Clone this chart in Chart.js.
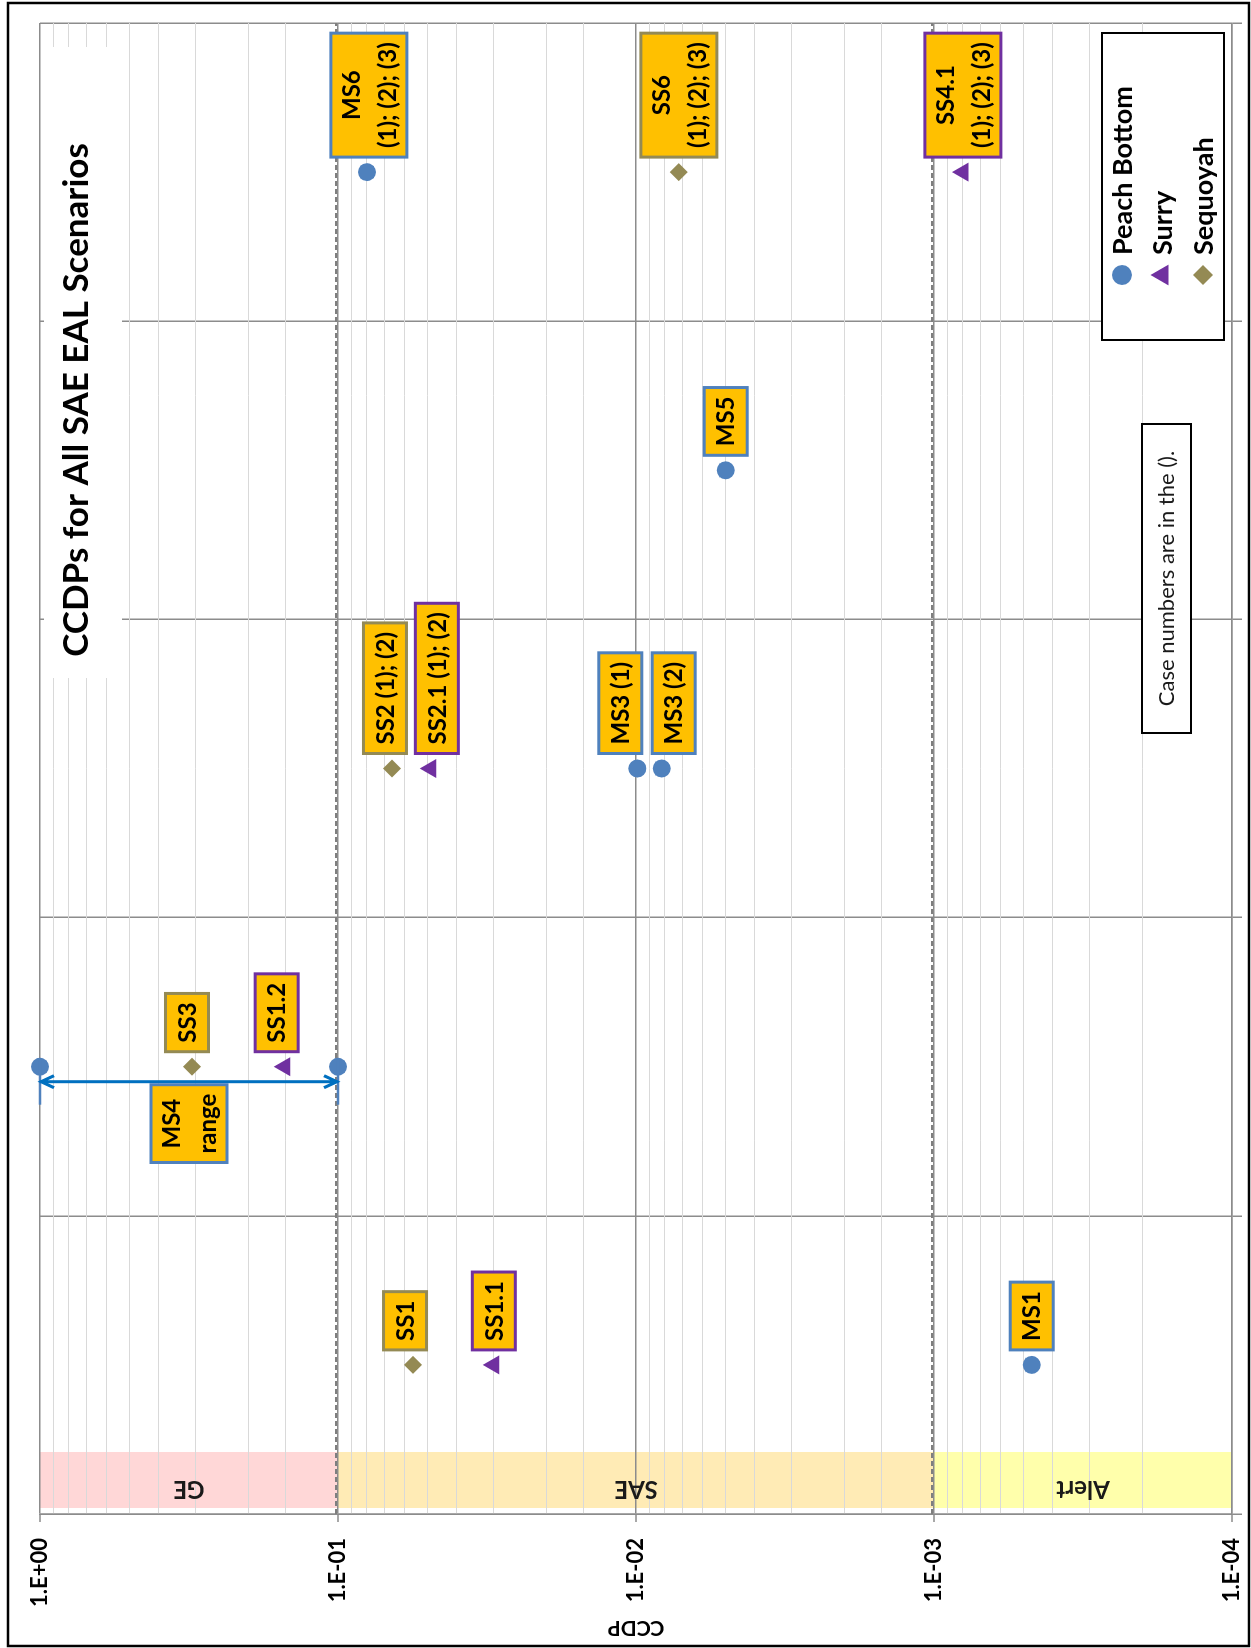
<!DOCTYPE html>
<html>
<head>
<meta charset="utf-8">
<title>CCDPs for All SAE EAL Scenarios</title>
<script src="https://cdn.jsdelivr.net/npm/chart.js@4.4.1/dist/chart.umd.min.js"></script>
<style>
  html, body { margin: 0; padding: 0; background: #fff; overflow: hidden; }
  /* the chart is drawn landscape and turned a quarter turn, like the source figure */
  #wrap {
    position: absolute; left: 0; top: 0;
    width: 1648px; height: 1251px;
    transform-origin: 0 0;
    transform: translateY(1648px) rotate(-90deg);
  }
</style>
</head>
<body>
<div id="wrap"><canvas id="ccdpChart" width="1648" height="1251"></canvas></div>
<script>
// Scenario groups along the category axis (not labelled on the figure)
const categories = ["G1", "G2", "G3", "G4", "G5"];

// CCDP axis ticks
const tickValues = [1, 0.1, 0.01, 0.001, 0.0001];
const tickLabels = ["1.E+00", "1.E-01", "1.E-02", "1.E-03", "1.E-04"];

// Peach Bottom
const peachGroups = ["G1", "G3", "G3", "G4", "G5"];
const peachValues = [4.7e-4, 0.0099, 0.0082, 0.005, 0.08];
const peachLabels = ["MS1", "MS3 (1)", "MS3 (2)", "MS5", "MS6\n(1); (2); (3)"];

// Surry
const surryGroups = ["G1", "G2", "G3", "G5"];
const surryValues = [0.03, 0.151, 0.0488, 0.0008];
const surryLabels = ["SS1.1", "SS1.2", "SS2.1 (1); (2)", "SS4.1\n(1); (2); (3)"];

// Sequoyah
const sequoyahGroups = ["G1", "G2", "G3", "G5"];
const sequoyahValues = [0.056, 0.309, 0.0659, 0.00718];
const sequoyahLabels = ["SS1", "SS3", "SS2 (1); (2)", "SS6\n(1); (2); (3)"];

// MS4 range (Peach Bottom)
const ms4Group = "G2";
const ms4Range = [1, 0.1];
const ms4Label = "MS4\nrange";

// EAL bands along the CCDP axis
const bandNames = ["GE", "SAE", "Alert"];
const bandFrom = [1, 0.1, 0.001];
const bandTo = [0.1, 0.001, 0.0001];
const bandColors = ["#ffd7d7", "#ffebb5", "#ffffab"];

// EAL thresholds shown as dashed lines
const thresholds = [0.1, 0.001];

const seriesNames = ["Peach Bottom", "Surry", "Sequoyah"];
const seriesColors = ["#4f81bd", "#7030a0", "#948a54"];

// labels that were nudged sideways so they don't collide (px)
const labelShift = {
  "SS1": -8, "SS1.2": -8, "SS3": -5,
  "SS2 (1); (2)": -7, "SS2.1 (1); (2)": 6,
  "MS3 (1)": -17, "MS3 (2)": 12,
  "MS6\n(1); (2); (3)": 2,
};

const LABEL_FONT = "bold 24px Lato";

function isDecade(v) {
  const e = Math.log10(v);
  return Math.abs(e - Math.round(e)) < 1e-6;
}

// orange data label box, to the right (or left) of a point
function drawLabelBox(ctx, x, y, text, border, side) {
  const lines = text.split("\n");
  ctx.save();
  ctx.font = LABEL_FONT;
  const w = Math.max(...lines.map((l) => ctx.measureText(l).width)) + 18;
  const h = lines.length === 1 ? 43 : 76;
  const bx = side === "left" ? x - 18 - w : x + 15;
  const by = y - h / 2;
  ctx.fillStyle = "#ffc000";
  ctx.fillRect(bx, by, w, h);
  ctx.strokeStyle = border;
  ctx.lineWidth = 3;
  ctx.strokeRect(bx, by, w, h);
  ctx.fillStyle = "#000";
  ctx.textAlign = "center";
  ctx.textBaseline = "middle";
  lines.forEach((l, k) => {
    ctx.fillText(l, bx + w / 2, y + 1 + (k - (lines.length - 1) / 2) * 36);
  });
  ctx.restore();
}

// bands, title box, threshold lines and decade tick marks
const backgroundPlugin = {
  id: "background",
  beforeDraw(chart) {
    const { ctx, scales: { y } } = chart;
    ctx.save();
    ctx.fillStyle = "#fff";
    ctx.fillRect(0, 0, chart.width, chart.height);
    bandNames.forEach((name, i) => {
      const y1 = y.getPixelForValue(bandFrom[i]);
      const y2 = y.getPixelForValue(bandTo[i]);
      ctx.fillStyle = bandColors[i];
      ctx.fillRect(140, y1, 56, y2 - y1);
    });
    ctx.restore();
  },
  beforeDatasetsDraw(chart) {
    const { ctx, chartArea, scales: { y } } = chart;
    ctx.save();
    // band names
    ctx.font = "bold 24px Lato";
    ctx.fillStyle = "#1a1a1a";
    ctx.textAlign = "center";
    ctx.textBaseline = "middle";
    bandNames.forEach((name, i) => {
      const mid = (y.getPixelForValue(bandFrom[i]) + y.getPixelForValue(bandTo[i])) / 2;
      ctx.save();
      ctx.translate(159, mid);
      ctx.rotate(-Math.PI / 2);
      ctx.fillText(name, 0, 0);
      ctx.restore();
    });
    // decade tick marks on the CCDP axis
    ctx.strokeStyle = "#8c8c8c";
    ctx.lineWidth = 1.5;
    ctx.beginPath();
    tickValues.forEach((t) => {
      const py = y.getPixelForValue(t);
      ctx.moveTo(chartArea.left - 8, py);
      ctx.lineTo(chartArea.left, py);
    });
    ctx.stroke();
    // dashed threshold lines
    ctx.strokeStyle = "#7f7f7f";
    ctx.lineWidth = 2;
    ctx.setLineDash([5, 3]);
    thresholds.forEach((t) => {
      const py = y.getPixelForValue(t) - 2;
      ctx.beginPath();
      ctx.moveTo(chartArea.left, py);
      ctx.lineTo(chartArea.right, py);
      ctx.stroke();
    });
    ctx.setLineDash([]);
    // chart title in a white box inside the plot
    ctx.fillStyle = "#fff";
    ctx.fillRect(970, 44, 631, 78);
    ctx.font = "bold 35px Lato";
    ctx.fillStyle = "#000";
    ctx.fillText("CCDPs for All SAE EAL Scenarios", 1248, 77);
    ctx.restore();
  }
};

// labels next to every point
const labelPlugin = {
  id: "pointLabels",
  afterDatasetsDraw(chart) {
    chart.data.datasets.forEach((ds, di) => {
      if (!ds.pointLabels) return;
      chart.getDatasetMeta(di).data.forEach((pt, i) => {
        const text = ds.pointLabels[i];
        if (!text) return;
        drawLabelBox(chart.ctx, pt.x, pt.y + (labelShift[text] || 0), text, ds.labelBorder, "right");
      });
    });
  }
};

// MS4 double arrow with end caps
const rangePlugin = {
  id: "ms4Range",
  afterDatasetsDraw(chart) {
    const { ctx, scales: { x, y } } = chart;
    const center = x.getPixelForValue(categories.indexOf(ms4Group));
    const cx = center - 15;
    const y1 = y.getPixelForValue(ms4Range[0]);
    const y2 = y.getPixelForValue(ms4Range[1]);
    ctx.save();
    ctx.strokeStyle = "#4f81bd";
    ctx.lineWidth = 2.5;
    ctx.beginPath();
    [y1, y2].forEach((py) => {
      ctx.moveTo(cx - 23, py);
      ctx.lineTo(cx + 22, py);
    });
    ctx.stroke();
    ctx.strokeStyle = "#0070c0";
    ctx.lineWidth = 3;
    ctx.beginPath();
    ctx.moveTo(cx, y1);
    ctx.lineTo(cx, y2);
    ctx.moveTo(cx - 6, y1 + 14); ctx.lineTo(cx, y1 + 1); ctx.lineTo(cx + 6, y1 + 14);
    ctx.moveTo(cx - 6, y2 - 14); ctx.lineTo(cx, y2 - 1); ctx.lineTo(cx + 6, y2 - 14);
    ctx.stroke();
    ctx.restore();
    const mid = y.getPixelForValue(Math.sqrt(ms4Range[0] * ms4Range[1]));
    drawLabelBox(ctx, center, mid, ms4Label, "#4f81bd", "left");
  }
};

// legend box, note box and outer frame
const framePlugin = {
  id: "frame",
  afterDraw(chart) {
    const ctx = chart.ctx;
    ctx.save();
    ctx.fillStyle = "#fff";
    ctx.fillRect(1308, 1102, 307, 122);
    ctx.strokeStyle = "#000";
    ctx.lineWidth = 2;
    ctx.strokeRect(1308, 1102, 307, 122);
    ctx.font = "bold 27px Lato";
    ctx.textAlign = "left";
    ctx.textBaseline = "middle";
    seriesNames.forEach((name, i) => {
      const ds = chart.data.datasets[i];
      const rowY = 1122 + i * 40.5;
      ctx.fillStyle = ds.backgroundColor;
      Chart.helpers.drawPoint(ctx, { pointStyle: ds.pointStyle, radius: ds.pointRadius + 1, rotation: 0, borderWidth: 0 }, 1373, rowY);
      ctx.fillStyle = "#000";
      ctx.fillText(name, 1393, rowY + 1);
    });

    ctx.fillStyle = "#fff";
    ctx.fillRect(915, 1142, 309, 49);
    ctx.strokeRect(915, 1142, 309, 49);
    ctx.font = "22px Lato";
    ctx.fillStyle = "#1a1a1a";
    ctx.textAlign = "center";
    ctx.fillText("Case numbers are in the ().", 1069.5, 1167);

    ctx.lineWidth = 2.5;
    ctx.strokeStyle = "#000";
    ctx.strokeRect(2, 8, 1643, 1241);
    ctx.restore();
  }
};

function series(groups, values) {
  return groups.map((g, i) => ({ x: g, y: values[i] }));
}

const ctx = document.getElementById("ccdpChart").getContext("2d");
new Chart(ctx, {
  type: "scatter",
  data: {
    labels: categories,
    datasets: [
      {
        label: seriesNames[0],
        data: series(peachGroups, peachValues),
        pointStyle: "circle",
        pointRadius: 9,
        backgroundColor: seriesColors[0],
        borderColor: seriesColors[0],
        borderWidth: 0,
        pointLabels: peachLabels,
        labelBorder: "#4f81bd",
        clip: false,
      },
      {
        label: seriesNames[1],
        data: series(surryGroups, surryValues),
        pointStyle: "triangle",
        pointRadius: 11,
        backgroundColor: seriesColors[1],
        borderColor: seriesColors[1],
        borderWidth: 0,
        pointLabels: surryLabels,
        labelBorder: "#7030a0",
        clip: false,
      },
      {
        label: seriesNames[2],
        data: series(sequoyahGroups, sequoyahValues),
        pointStyle: "rectRot",
        pointRadius: 9,
        backgroundColor: seriesColors[2],
        borderColor: seriesColors[2],
        borderWidth: 0,
        pointLabels: sequoyahLabels,
        labelBorder: "#948a54",
        clip: false,
      },
      {
        label: "MS4 range",
        data: ms4Range.map((v) => ({ x: ms4Group, y: v })),
        pointStyle: "circle",
        pointRadius: 9,
        backgroundColor: seriesColors[0],
        borderColor: seriesColors[0],
        borderWidth: 0,
        clip: false,
      },
    ],
  },
  options: {
    responsive: false,
    animation: false,
    events: [],
    layout: { padding: { left: 0, top: 40, right: 23, bottom: 0 } },
    plugins: {
      legend: { display: false },
      tooltip: { enabled: false },
    },
    scales: {
      x: {
        type: "category",
        offset: true,
        grid: { offset: true, color: "#8c8c8c", lineWidth: 1.5, tickLength: 10 },
        border: { color: "#8c8c8c", width: 1.5 },
        ticks: { display: false },
        afterFit: (scale) => { scale.height = 19; },
      },
      y: {
        type: "logarithmic",
        min: 0.0001,
        max: 1,
        grid: {
          color: (c) => (isDecade(c.tick.value) ? "#8c8c8c" : "#d9d9d9"),
          lineWidth: (c) => (isDecade(c.tick.value) ? 1.5 : 1),
          tickColor: "rgba(0,0,0,0)",
          tickLength: 19,
        },
        border: { color: "#8c8c8c", width: 1.5 },
        ticks: {
          autoSkip: false,
          padding: 5,
          color: "#000",
          font: { family: "Lato", weight: "bold", size: 22 },
          callback: (v) => {
            const k = tickValues.findIndex((t) => Math.abs(Math.log10(t) - Math.log10(v)) < 1e-6);
            return k >= 0 ? tickLabels[k] : "";
          },
        },
        title: {
          display: true,
          text: "CCDP",
          color: "#000",
          padding: { top: 8, bottom: 0 },
          font: { family: "Lato", weight: "bold", size: 21 },
        },
        afterFit: (scale) => { scale.width = 134; },
      },
    },
  },
  plugins: [backgroundPlugin, rangePlugin, labelPlugin, framePlugin],
});
</script>
</body>
</html>
